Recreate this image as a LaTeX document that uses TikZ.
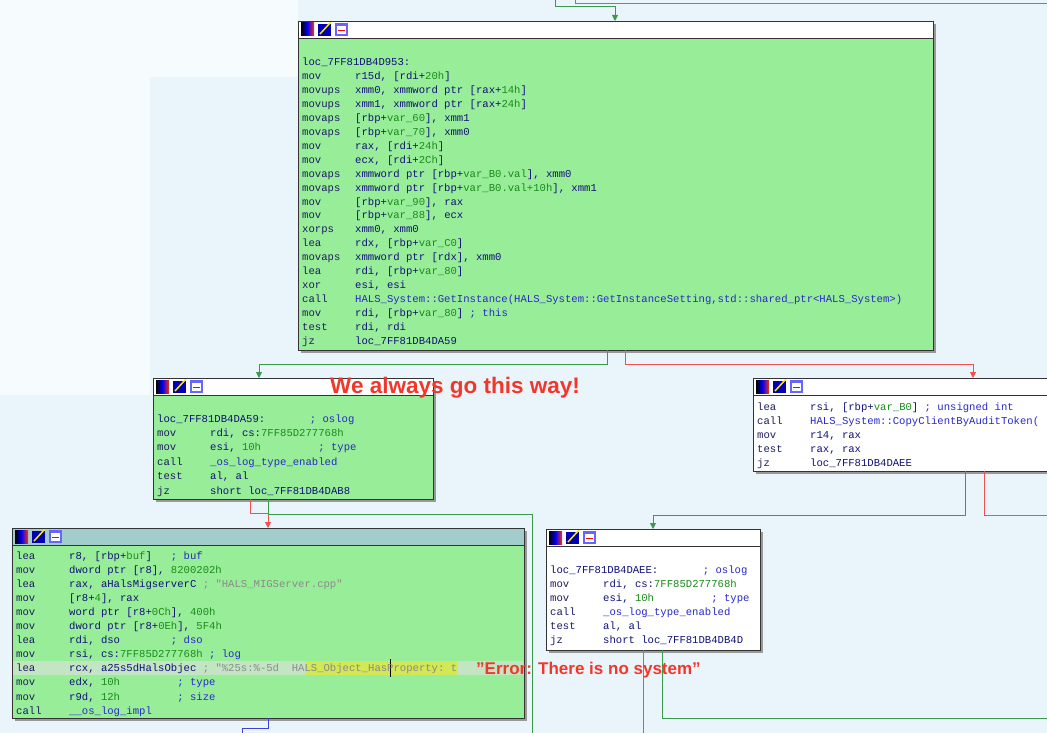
\documentclass[tikz,border=0pt]{standalone}
\usepackage{fontspec}
\setmonofont{Liberation Mono}
\setsansfont{Liberation Sans}
\usetikzlibrary{arrows.meta}
\definecolor{bg}{HTML}{EAF5FB}
\definecolor{bgw}{HTML}{F6FBFE}
\definecolor{gbody}{HTML}{98EE98}
\definecolor{theadc}{HTML}{A2CDCC}
\definecolor{kw}{HTML}{1C1C60}
\definecolor{rg}{HTML}{101078}
\definecolor{nm}{HTML}{1A8A1A}
\definecolor{cm}{HTML}{2828C8}
\definecolor{st}{HTML}{8A8A8A}
\definecolor{eg}{HTML}{3C9A4C}
\definecolor{er}{HTML}{F05050}
\definecolor{eb}{HTML}{4040E0}
\definecolor{ann}{HTML}{F2372A}
\newcommand\cN[1]{\textcolor{nm}{#1}}
\newcommand\cC[1]{\textcolor{cm}{#1}}
\newcommand\cS[1]{\textcolor{st}{#1}}
\newcommand\asm[4]{\node[asmline] at (#1,#2) {\makebox[53pt][l]{\textcolor{kw}{#3}}\textcolor{rg}{#4}};}
\newcommand\lbl[3]{\node[asmline] at (#1,#2) {\textcolor{rg}{#3}};}
\tikzset{
 asmline/.style={anchor=base west,inner sep=0pt,font=\ttfamily\fontsize{10.6}{12}\selectfont},
 blk/.style={draw=black!80,line width=0.8pt},
 edg/.style={line width=0.9pt},
 arr/.style={-{Triangle[length=6pt,width=6pt]}},
 annotation/.style={anchor=base west,inner sep=0pt,text=ann,font=\sffamily\bfseries},
}
\newcommand\hdr[4]{% x y w color
 \fill[#4] (#1,#2) rectangle ++(#3,17);
 \shade[left color=black,right color=red!80!yellow,middle color=blue] (#1+3,#2+2) rectangle ++(13,13);
 \fill[blue!70!black] (#1+20,#2+3) rectangle ++(13,12);
 \draw[yellow!90!orange,line width=1.5pt] (#1+22,#2+13) -- (#1+33,#2+1);
 \fill[blue!60] (#1+37,#2+2) rectangle ++(13,13);
 \fill[white] (#1+39,#2+5) rectangle ++(9,8);
 \draw[red,line width=0.8pt] (#1+40,#2+9) -- (#1+47,#2+9);
 \draw[black!80,line width=0.8pt] (#1,#2+17) -- ++(#3,0);}
\begin{document}
\begin{tikzpicture}[x=1pt,y=-1pt]
\useasboundingbox (0,0) rectangle (1047,733);
\fill[bg] (0,0) rectangle (1047,733);
\fill[bgw] (0,0) rectangle (150,395);
\fill[bgw] (10,0) rectangle (298,77);
\draw[edg,er] (575,0) -- (575,3) -- (1047,3);
\draw[edg,eg,arr] (555,0) -- (555,6) -- (615,6) -- (615,21);
\fill[black!40] (301,24) rectangle (936,353);
\fill[gbody] (298,21) rectangle (933,350);
\hdr{298}{21}{635}{white}
\draw[blk] (298,21) rectangle (933,350);
\def\X{302}
\lbl{\X}{66}{loc\_7FF81DB4D953:}
\asm{\X}{79.9}{mov}{r15d, [rdi+\cN{20h}]}
\asm{\X}{93.8}{movups}{xmm0, xmmword ptr [rax+\cN{14h}]}
\asm{\X}{107.7}{movups}{xmm1, xmmword ptr [rax+\cN{24h}]}
\asm{\X}{121.6}{movaps}{[rbp+\cN{var\_60}], xmm1}
\asm{\X}{135.5}{movaps}{[rbp+\cN{var\_70}], xmm0}
\asm{\X}{149.4}{mov}{rax, [rdi+\cN{24h}]}
\asm{\X}{163.3}{mov}{ecx, [rdi+\cN{2Ch}]}
\asm{\X}{177.2}{movaps}{xmmword ptr [rbp+\cN{var\_B0.val}], xmm0}
\asm{\X}{191.1}{movaps}{xmmword ptr [rbp+\cN{var\_B0.val+10h}], xmm1}
\asm{\X}{205}{mov}{[rbp+\cN{var\_90}], rax}
\asm{\X}{218.9}{mov}{[rbp+\cN{var\_88}], ecx}
\asm{\X}{232.8}{xorps}{xmm0, xmm0}
\asm{\X}{246.7}{lea}{rdx, [rbp+\cN{var\_C0}]}
\asm{\X}{260.6}{movaps}{xmmword ptr [rdx], xmm0}
\asm{\X}{274.5}{lea}{rdi, [rbp+\cN{var\_80}]}
\asm{\X}{288.4}{xor}{esi, esi}
\asm{\X}{302.3}{call}{\cC{HALS\_System::GetInstance(HALS\_System::GetInstanceSetting,std::shared\_ptr<HALS\_System>)}}
\asm{\X}{316.2}{mov}{rdi, [rbp+\cN{var\_80}] \cC{; this}}
\asm{\X}{330.1}{test}{rdi, rdi}
\asm{\X}{344}{jz}{loc\_7FF81DB4DA59}
\draw[edg,eg,arr] (607,350) -- (607,364) -- (259,364) -- (259,378);
\draw[edg,er,arr] (625,350) -- (625,364) -- (973,364) -- (973,378);
\fill[black!40] (156,381) rectangle (436,502);
\fill[gbody] (153,378) rectangle (433,499);
\hdr{153}{378}{280}{white}
\draw[blk] (153,378) rectangle (433,499);
\def\X{157}
\lbl{\X}{422}{loc\_7FF81DB4DA59:\ \ \ \ \ \ \ \cC{; oslog}}
\asm{\X}{436.4}{mov}{rdi, cs:\cN{7FF85D277768h}}
\asm{\X}{450.8}{mov}{esi, \cN{10h}\ \ \ \ \ \ \ \ \ \cC{; type}}
\asm{\X}{465.2}{call}{\cC{\_os\_log\_type\_enabled}}
\asm{\X}{479.6}{test}{al, al}
\asm{\X}{494}{jz}{short loc\_7FF81DB4DAB8}
\draw[edg,er,arr] (250,499) -- (250,513) -- (268,513) -- (268,528);
\draw[edg,eg] (268,499) -- (268,514) -- (532,514) -- (532,733);
\fill[black!40] (756,381) rectangle (1050,474);
\fill[white] (753,378) rectangle (1050,471);
\hdr{753}{378}{300}{white}
\draw[blk] (1050,471) -- (753,471) -- (753,378) -- (1050,378);
\def\X{757}
\asm{\X}{410}{lea}{rsi, [rbp+\cN{var\_B0}] \cC{; unsigned int}}
\asm{\X}{424}{call}{\cC{HALS\_System::CopyClientByAuditToken(}}
\asm{\X}{438}{mov}{r14, rax}
\asm{\X}{452}{test}{rax, rax}
\asm{\X}{466}{jz}{loc\_7FF81DB4DAEE}
\draw[edg,eg,arr] (965,471) -- (965,515) -- (653,515) -- (653,529);
\draw[edg,er] (984,471) -- (984,515) -- (1047,515);
\fill[black!40] (15,531) rectangle (527,721);
\fill[gbody] (12,528) rectangle (524,718);
\hdr{12}{528}{512}{theadc}
\fill[black!12,opacity=0.6] (13,661) rectangle (523,675);
\fill[yellow!75!green!70] (305,661) rectangle (458,675);
\draw[black,line width=1pt] (390,659) -- (390,677);
\def\X{16}
\asm{\X}{559}{lea}{r8, [rbp+\cN{buf}]\ \ \ \cC{; buf}}
\asm{\X}{573.1}{mov}{dword ptr [r8], \cN{8200202h}}
\asm{\X}{587.2}{lea}{rax, aHalsMigserverC \cS{; "HALS\_MIGServer.cpp"}}
\asm{\X}{601.3}{mov}{[r8+\cN{4}], rax}
\asm{\X}{615.4}{mov}{word ptr [r8+\cN{0Ch}], \cN{400h}}
\asm{\X}{629.5}{mov}{dword ptr [r8+\cN{0Eh}], \cN{5F4h}}
\asm{\X}{643.6}{lea}{rdi, dso\ \ \ \ \ \ \ \ \cC{; dso}}
\asm{\X}{657.7}{mov}{rsi, cs:\cN{7FF85D277768h} \cC{; log}}
\begin{scope}
\clip (12,650) rectangle (476,680);
\asm{\X}{671.8}{lea}{rcx, a25s5dHalsObjec \cS{; "\%25s:\%-5d\ \ HALS\_Object\_HasProperty: t}}
\end{scope}
\asm{\X}{685.9}{mov}{edx, \cN{10h}\ \ \ \ \ \ \ \ \ \cC{; type}}
\asm{\X}{700}{mov}{r9d, \cN{12h}\ \ \ \ \ \ \ \ \ \cC{; size}}
\asm{\X}{714.1}{call}{\cC{\_\_os\_log\_impl}}
\draw[blk] (12,528) rectangle (524,718);
\draw[edg,eb] (268,718) -- (268,728) -- (242,728) -- (242,733);
\fill[black!40] (549,532) rectangle (763,653);
\fill[white] (546,529) rectangle (760,650);
\hdr{546}{529}{214}{white}
\draw[blk] (546,529) rectangle (760,650);
\def\X{550}
\lbl{\X}{573}{loc\_7FF81DB4DAEE:\ \ \ \ \ \ \ \cC{; oslog}}
\asm{\X}{587}{mov}{rdi, cs:\cN{7FF85D277768h}}
\asm{\X}{601}{mov}{esi, \cN{10h}\ \ \ \ \ \ \ \ \ \cC{; type}}
\asm{\X}{615}{call}{\cC{\_os\_log\_type\_enabled}}
\asm{\X}{629}{test}{al, al}
\asm{\X}{643}{jz}{short loc\_7FF81DB4DB4D}
\draw[edg,er] (643,650) -- (643,733);
\draw[edg,eg] (662,650) -- (662,718) -- (1047,718);
\node[annotation,font=\sffamily\bfseries\fontsize{22.5}{24}\selectfont] (ann1) at (330,393) {We always go this way!};
\node[annotation,font=\sffamily\bfseries\fontsize{17}{19}\selectfont] (ann2) at (476,674) {\symbol{34}Error: There is no system\symbol{34}};
\end{tikzpicture}
\end{document}
